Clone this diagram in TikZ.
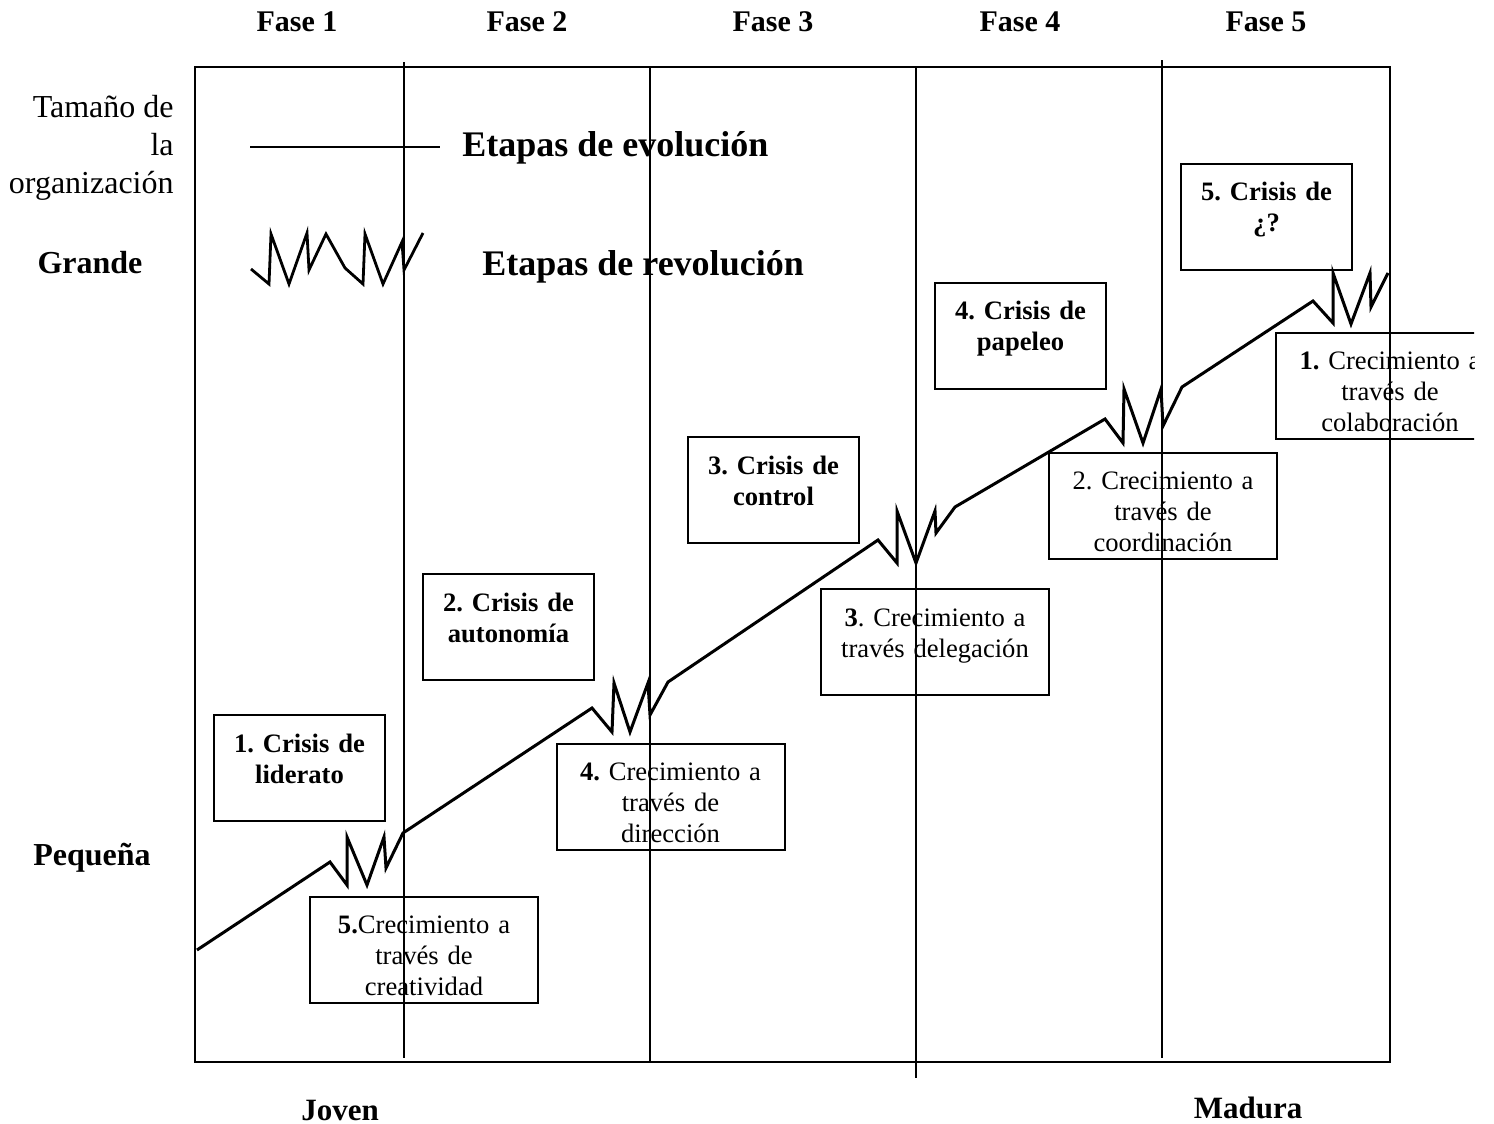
\documentclass[tikz,border=0pt]{standalone}
\usepackage{fontspec}
\setmainfont{Liberation Serif}
\frenchspacing
\begin{document}
\begin{tikzpicture}[x=0.5pt,y=-0.5pt,line join=miter,
  crisis/.style={rectangle,draw,line width=1pt,minimum width=85.5pt,minimum height=53pt,text width=82pt,align=center,inner sep=0pt,font=\bfseries\fontsize{13.3}{15.5}\selectfont,execute at begin node=\rule{0pt}{15pt}},
  growth/.style={rectangle,draw,line width=1pt,minimum width=114pt,minimum height=53pt,text width=112pt,align=center,inner sep=0pt,font=\fontsize{13.3}{15.5}\selectfont,execute at begin node=\rule{0pt}{15pt}},
  fase/.style={font=\bfseries\fontsize{15}{18}\selectfont},
  side/.style={font=\bfseries\fontsize{16}{19}\selectfont},
  legend/.style={anchor=west,inner sep=0pt,font=\bfseries\fontsize{18}{21}\selectfont}]
\useasboundingbox (0,0) rectangle (1494,1124);
% fases
\foreach \x/\n in {297/1,527/2,773/3,1020/4,1266/5}
  \node [fase] (fase\n) at (\x,22) {Fase \n};
% marco y fases
\draw [line width=1pt] (195,67) rectangle (1390,1062);
\draw [line width=1pt] (404,62) -- (404,1058);
\draw [line width=1pt] (650,67) -- (650,1062);
\draw [line width=1pt] (916,67) -- (916,1078);
\draw [line width=1pt] (1162,60) -- (1162,1058);
% eje
\node [anchor=east,align=right,inner sep=0pt,font=\fontsize{16}{19}\selectfont] (tamano) at (174,148) {Tamaño de\\la\\organización};
\node [side] (grande) at (90,263) {Grande};
\node [side] (pequena) at (92,858) {Pequeña};
\node [fase,font=\bfseries\fontsize{15.5}{18}\selectfont] (joven) at (340,1110) {Joven};
\node [fase,font=\bfseries\fontsize{15.5}{18}\selectfont] (madura) at (1248,1108) {Madura};
% leyenda
\draw [line width=1pt] (250,147) -- (440,147);
\node [legend] (evol) at (462,148) {Etapas de evolución};
\draw [line width=1.4pt] (251,269) -- (269,284) -- (271,234) -- (289,284) -- (307,233) -- (309,270) -- (326,234) -- (345,268) -- (363,284) -- (365,234) -- (383,284) -- (402,242) -- (404,270) -- (423,233);
\node [legend] (revol) at (482,267) {Etapas de revolución};
% crisis
\node [crisis] (crisis1) at (299.5,768) {1. Crisis de\\liderato\\~};
\node [crisis] (crisis2) at (508.5,627) {2. Crisis de\\autonomía\\~};
\node [crisis] (crisis3) at (773.5,490) {3. Crisis de\\control\\~};
\node [crisis] (crisis4) at (1020.5,335.5) {4. Crisis de\\papeleo\\~};
\node [crisis] (crisis5) at (1266.5,216.5) {5. Crisis de\\¿?\\~};
% crecimiento
\node [growth] (crec5) at (424,949.5) {\textbf{5.}Crecimiento a\\través de\\creatividad};
\node [growth] (crec4) at (670.5,797) {\textbf{4.} Crecimiento a\\través de\\dirección};
\node [growth] (crec3) at (935,642) {\textbf{3}. Crecimiento a\\través delegación\\~};
\node [growth] (crec2) at (1163,506) {2. Crecimiento a\\través de\\coordinación};
\begin{scope}
\clip (0,0) rectangle (1474,1124);
\node [growth] (crec1) at (1390,386) {\textbf{1.} Crecimiento a\\través de\\colaboración};
\end{scope}
% evolucion y revolucion
\draw [line width=1.5pt] (197,950) -- (330,862) -- (347,885) -- (347,837) -- (367,885) -- (384,837) -- (386,868) -- (403,833)
  -- (592,708) -- (612,732) -- (614,683) -- (630,732) -- (648,683) -- (650,715) -- (668,682)
  -- (878,540) -- (897,563) -- (897,511) -- (916,563) -- (935,511) -- (936,533) -- (955,507)
  -- (1105,419) -- (1123,443) -- (1124,389) -- (1143,443) -- (1161,389) -- (1163,426) -- (1182,387)
  -- (1313,301) -- (1333,323) -- (1333,273) -- (1351,324) -- (1370,273) -- (1371,307) -- (1388,273);
\end{tikzpicture}
\end{document}
